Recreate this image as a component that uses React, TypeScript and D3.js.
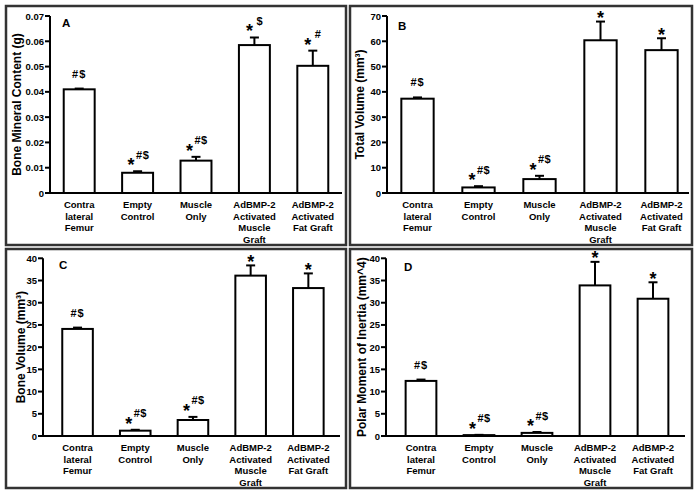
import React from "react";
import * as d3 from "d3";

const categories: string[][] = [
  ["Contra", "lateral", "Femur"],
  ["Empty", "Control"],
  ["Muscle", "Only"],
  ["AdBMP-2", "Activated", "Muscle", "Graft"],
  ["AdBMP-2", "Activated", "Fat Graft"],
];

const bmcMeans = [0.041, 0.008, 0.0128, 0.0585, 0.0503];
const bmcErrors = [0.0003, 0.0006, 0.0015, 0.003, 0.006];
const bmcMarks = ["#$", "*#$", "*#$", "*$", "*#"];
const bmcTicks = [0, 0.01, 0.02, 0.03, 0.04, 0.05, 0.06, 0.07];

const tvMeans = [37.3, 2.2, 5.5, 60.4, 56.5];
const tvErrors = [0.5, 0.5, 1.3, 7.4, 4.7];
const tvMarks = ["#$", "*#$", "*#$", "*", "*"];
const tvTicks = [0, 10, 20, 30, 40, 50, 60, 70];

const bvMeans = [24.1, 1.2, 3.6, 36.1, 33.3];
const bvErrors = [0.3, 0.2, 0.7, 2.3, 3.3];
const bvMarks = ["#$", "*#$", "*#$", "*", "*"];
const bvTicks = [0, 5, 10, 15, 20, 25, 30, 35, 40];

const pmiMeans = [12.4, 0.2, 0.7, 33.9, 30.9];
const pmiErrors = [0.3, 0.06, 0.2, 5.3, 3.7];
const pmiMarks = ["#$", "*#$", "*#$", "*", "*"];
const pmiTicks = [0, 5, 10, 15, 20, 25, 30, 35, 40];

const FONT = "'Liberation Sans', Arial, Helvetica, sans-serif";

type PanelSpec = {
  letter: string;
  title: string;
  means: number[];
  errors: number[];
  marks: string[];
  ticks: number[];
  tickFmt: (v: number) => string;
  rect: [number, number, number, number];
  axisX: number;
  y0: number;
  yTop: number;
  band: [number, number];
  xEnd: number;
  titleX: number;
  letterPos: [number, number];
};

const panels: PanelSpec[] = [
  {
    letter: "A",
    title: "Bone Mineral Content (g)",
    means: bmcMeans,
    errors: bmcErrors,
    marks: bmcMarks,
    ticks: bmcTicks,
    tickFmt: (v) => (v === 0 ? "0" : d3.format(".2f")(v)),
    rect: [6, 6, 340, 239],
    axisX: 50,
    y0: 193,
    yTop: 16,
    band: [50, 342],
    xEnd: 342,
    titleX: 16.5,
    letterPos: [62, 27],
  },
  {
    letter: "B",
    title: "Total Volume (mm³)",
    means: tvMeans,
    errors: tvErrors,
    marks: tvMarks,
    ticks: tvTicks,
    tickFmt: (v) => String(v),
    rect: [350, 6, 342, 239],
    axisX: 387,
    y0: 193,
    yTop: 16,
    band: [387, 692],
    xEnd: 689,
    titleX: 359.5,
    letterPos: [398, 30],
  },
  {
    letter: "C",
    title: "Bone Volume (mm³)",
    means: bvMeans,
    errors: bvErrors,
    marks: bvMarks,
    ticks: bvTicks,
    tickFmt: (v) => String(v),
    rect: [6, 249, 340, 239],
    axisX: 43,
    y0: 436,
    yTop: 258.3,
    band: [48.7, 337.2],
    xEnd: 340,
    titleX: 20.5,
    letterPos: [59, 269],
  },
  {
    letter: "D",
    title: "Polar Moment of Inertia (mm^4)",
    means: pmiMeans,
    errors: pmiErrors,
    marks: pmiMarks,
    ticks: pmiTicks,
    tickFmt: (v) => String(v),
    rect: [350, 249, 342, 239],
    axisX: 386,
    y0: 436,
    yTop: 258.3,
    band: [392, 682],
    xEnd: 685,
    titleX: 362,
    letterPos: [404, 271],
  },
];

const STAR_FS = 18;

function Mark({ cx, capY, mark }: { cx: number; capY: number; mark: string }) {
  const hasStar = mark.startsWith("*");
  const rest = hasStar ? mark.slice(1) : mark;
  if (!hasStar) {
    return (
      <text x={cx} y={capY - 11} textAnchor="middle" fontSize={11} fontWeight="bold" letterSpacing={1}>
        {rest}
      </text>
    );
  }
  if (rest.length === 0) {
    const starCY = capY - 8;
    return (
      <text x={cx} y={starCY + 0.58 * STAR_FS} textAnchor="middle" fontSize={STAR_FS} fontWeight="bold">
        *
      </text>
    );
  }
  const starCX = rest.length > 1 ? cx - 6.5 : cx - 5;
  const supX = rest.length > 1 ? cx - 1.5 : cx + 2;
  const starCY = capY - 10.5;
  return (
    <g>
      <text x={starCX} y={starCY + 0.58 * STAR_FS} textAnchor="middle" fontSize={STAR_FS} fontWeight="bold">
        *
      </text>
      <text x={supX} y={capY - 12.5} fontSize={11} fontWeight="bold" letterSpacing={0.5}>
        {rest}
      </text>
    </g>
  );
}

function Panel({ p }: { p: PanelSpec }) {
  const x = d3
    .scaleBand<number>()
    .domain(d3.range(categories.length))
    .range(p.band)
    .paddingInner(0.47)
    .paddingOuter(0.235);
  const y = d3
    .scaleLinear()
    .domain([p.ticks[0], p.ticks[p.ticks.length - 1]])
    .range([p.y0, p.yTop]);
  const bw = x.bandwidth();
  const midY = (p.y0 + p.yTop) / 2;
  return (
    <g>
      <rect
        x={p.rect[0]}
        y={p.rect[1]}
        width={p.rect[2]}
        height={p.rect[3]}
        fill="white"
        stroke="#333"
        strokeWidth={2.5}
      />
      <line x1={p.axisX} x2={p.axisX} y1={y(p.ticks[0]) + 1} y2={y(p.ticks[p.ticks.length - 1])} stroke="black" strokeWidth={2} />
      {p.ticks.map((t) => (
        <g key={t}>
          <line x1={p.axisX - 5} x2={p.axisX} y1={y(t)} y2={y(t)} stroke="black" strokeWidth={2} />
          <text x={p.axisX - 6} y={y(t) + 3.5} textAnchor="end" fontSize={9.5} fontWeight="bold">
            {p.tickFmt(t)}
          </text>
        </g>
      ))}
      {p.means.map((m, i) => {
        const x0 = x(i)!;
        const cx = x0 + bw / 2;
        const top = y(m);
        const capY = y(m + p.errors[i]);
        return (
          <g key={i}>
            <line x1={cx} x2={cx} y1={top} y2={capY} stroke="black" strokeWidth={2} />
            <line x1={cx - 4.5} x2={cx + 4.5} y1={capY} y2={capY} stroke="black" strokeWidth={2} />
            <rect x={x0} y={top} width={bw} height={p.y0 - top} fill="white" stroke="black" strokeWidth={2} />
            <Mark cx={cx} capY={capY} mark={p.marks[i]} />
            <text textAnchor="middle" fontSize={9.5} fontWeight="bold">
              {categories[i].map((line, j) => (
                <tspan key={j} x={cx} y={p.y0 + 15 + j * 11.5}>
                  {line}
                </tspan>
              ))}
            </text>
          </g>
        );
      })}
      <line x1={p.axisX - 1} x2={p.xEnd} y1={p.y0} y2={p.y0} stroke="black" strokeWidth={2} />
      <text
        transform={`translate(${p.titleX + 4.3},${midY}) rotate(-90)`}
        textAnchor="middle"
        fontSize={12}
        fontWeight="bold"
      >
        {p.title}
      </text>
      <text x={p.letterPos[0]} y={p.letterPos[1]} fontSize={11.5} fontWeight="bold">
        {p.letter}
      </text>
    </g>
  );
}

export default function App() {
  return (
    <svg
      width={695}
      height={495}
      style={{ position: "absolute", left: 0, top: 0, background: "white" }}
      fontFamily={FONT}
    >
      <rect width={695} height={495} fill="white" />
      {panels.map((p) => (
        <Panel key={p.letter} p={p} />
      ))}
    </svg>
  );
}
